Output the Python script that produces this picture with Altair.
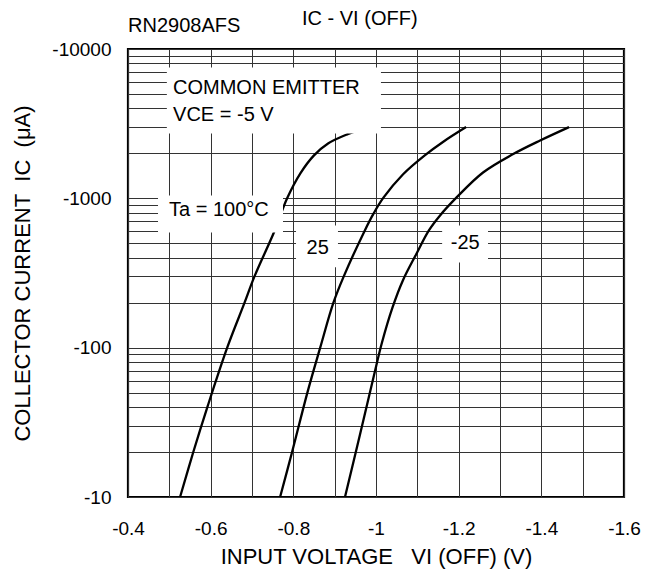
import altair as alt
import pandas as pd

FONT = "Liberation Sans"
NB = "\u00a0"

# IC - VI(OFF) curves, one per ambient temperature (V, µA)
vi_100 = [-0.526, -0.558, -0.592, -0.640, -0.682, -0.706, -0.754, -0.785, -0.817, -0.850, -0.884, -0.930, -0.981]
ic_100 = [-10, -20, -40, -100, -200, -300, -600, -1000, -1470, -1940, -2330, -2680, -3000]

vi_25 = [-0.768, -0.797, -0.834, -0.865, -0.897, -0.922, -0.973, -0.994, -1.018, -1.065, -1.118, -1.162, -1.218]
ic_25 = [-10, -20, -50, -100, -200, -300, -610, -790, -1010, -1445, -1940, -2385, -3000]

vi_m25 = [-0.925, -0.961, -0.995, -1.014, -1.040, -1.065, -1.097, -1.128, -1.155, -1.195, -1.259, -1.332, -1.397, -1.467]
ic_m25 = [-10, -26, -65, -107, -186, -282, -421, -610, -768, -1014, -1490, -1980, -2440, -3000]

curve_names = ["100", "25", "-25"]

# Axis ticks / grid positions
x_ticks = [-0.4, -0.5, -0.6, -0.7, -0.8, -0.9, -1.0, -1.1, -1.2, -1.3, -1.4, -1.5, -1.6]
y_ticks = [10, 20, 30, 40, 50, 60, 70, 80, 90,
           100, 200, 300, 400, 500, 600, 700, 800, 900,
           1000, 2000, 3000, 4000, 5000, 6000, 7000, 8000, 9000,
           10000]

# Annotation text and the white boxes behind it (chart units)
note_text = ["COMMON EMITTER", "VCE = -5 V"]
note_vi = [-0.509, -0.509]
note_ic = [-5010, -3320]

label_text = ["Ta = 100°C", "25", "-25"]
label_vi = [-0.620, -0.859, -1.216]
label_ic = [-757, -426, -460]

box_vi1 = [-0.494, -0.4726, -0.8065, -1.160]
box_vi2 = [-1.012, -0.775, -0.908, -1.271]
box_ic1 = [-7520, -1046, -658, -658]
box_ic2 = [-2720, -591, -345, -372]

rows = []
for name, vs, cs in zip(curve_names, [vi_100, vi_25, vi_m25], [ic_100, ic_25, ic_m25]):
    for k, (v, c) in enumerate(zip(vs, cs)):
        rows.append({"ta": name, "k": k, "vi": v, "ic": c})
curves = pd.DataFrame(rows)

boxes = pd.DataFrame({"vi": box_vi1, "vi2": box_vi2, "ic": box_ic1, "ic2": box_ic2})
notes = pd.DataFrame({"vi": note_vi, "ic": note_ic, "t": note_text})
labels = pd.DataFrame({"vi": label_vi, "ic": label_ic, "t": label_text})

x_scale = alt.Scale(domain=[-1.6, -0.4], reverse=True, nice=False, zero=False)
y_scale = alt.Scale(type="log", domain=[10, 10000], nice=False)

x_axis = alt.Axis(
    title=f"INPUT VOLTAGE{NB}{NB}{NB}VI (OFF) (V)",
    values=x_ticks,
    labelExpr="abs(round(datum.value*10)) % 2 == 0 ? (round(datum.value*10) == 0 ? '0' : '-' + format(abs(datum.value), '~g')) : ''",
    grid=True, ticks=False, domain=False,
    labelOverlap=False, labelFlush=False, labelBound=False,
    labelFontSize=19, labelPadding=22, labelFont=FONT, labelColor="black",
    titleFontSize=22, titleFont=FONT, titleFontWeight="normal", titleColor="black",
    titleBaseline="alphabetic", titleY=66,
)
y_axis = alt.Axis(
    title=f"COLLECTOR CURRENT{NB}{NB}IC{NB}{NB}(μA)",
    values=y_ticks,
    labelExpr="indexof([10, 100, 1000, 10000], datum.value) >= 0 ? '-' + datum.value : ''",
    grid=True, ticks=False, domain=False,
    labelOverlap=False, labelFlush=False, labelBound=False,
    labelFontSize=19, labelPadding=17, labelFont=FONT, labelColor="black",
    titleFontSize=22, titleFont=FONT, titleFontWeight="normal", titleColor="black",
    titleBaseline="middle", titleX=-106,
)

def xy(x_field="vi:Q", y_field="ic_abs:Q"):
    return dict(
        x=alt.X(x_field, scale=x_scale, axis=x_axis),
        y=alt.Y(y_field, scale=y_scale, axis=y_axis),
    )

lines = alt.Chart(curves).transform_calculate(
    ic_abs="abs(datum.ic)"
).mark_line(color="black", strokeWidth=2.3, interpolate="catmull-rom").encode(
    detail="ta:N", order="k:Q", **xy()
)

rects = alt.Chart(boxes).transform_calculate(
    ic_abs="abs(datum.ic)", ic_abs2="abs(datum.ic2)"
).mark_rect(color="white").encode(
    x2="vi2:Q", y2="ic_abs2:Q", **xy()
)

note_marks = alt.Chart(notes).transform_calculate(
    ic_abs="abs(datum.ic)"
).mark_text(align="left", baseline="alphabetic", fontSize=20, font=FONT, color="black").encode(
    text="t:N", **xy()
)

label_marks = alt.Chart(labels).transform_calculate(
    ic_abs="abs(datum.ic)"
).mark_text(align="center", baseline="alphabetic", fontSize=20, font=FONT, color="black").encode(
    text="t:N", **xy()
)

header_left = alt.Chart(pd.DataFrame({"t": ["RN2908AFS"]})).mark_text(
    align="left", baseline="alphabetic", fontSize=20, font=FONT, color="black"
).encode(x=alt.value(0), y=alt.value(-17), text="t:N")

header_right = alt.Chart(pd.DataFrame({"t": ["IC - VI (OFF)"]})).mark_text(
    align="left", baseline="alphabetic", fontSize=20, font=FONT, color="black"
).encode(x=alt.value(174), y=alt.value(-24), text="t:N")

chart = alt.layer(
    lines, rects, note_marks, label_marks, header_left, header_right
).properties(
    width=496,
    height=448,
    autosize=alt.AutoSizeParams(type="none"),
    padding={"left": 128, "top": 49, "right": 28, "bottom": 78},
    background="white",
).configure_view(
    stroke="black", strokeWidth=2.2
).configure_axis(
    gridColor="#333333", gridWidth=1, gridOpacity=1
)

chart.save("out.html", embed_options={"renderer": "svg", "actions": False})
